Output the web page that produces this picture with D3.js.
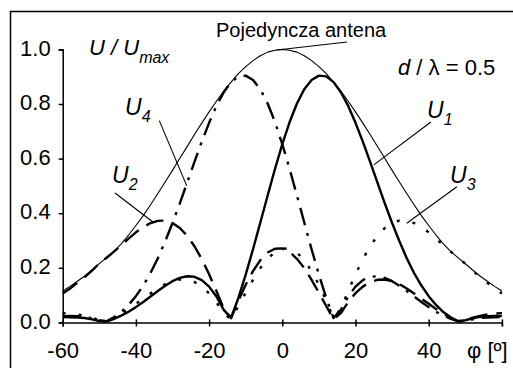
<!DOCTYPE html>
<html>
<head>
<meta charset="utf-8">
<script src="https://cdn.jsdelivr.net/npm/d3@7"></script>
<style>
  body { margin: 0; background: #fff; }
  text { font-family: Arial, "Liberation Sans", sans-serif; fill: #000; }
</style>
</head>
<body>
<svg id="chart" width="513" height="368"></svg>
<script>
// angle grid, degrees
const phi = [-60, -58, -56, -54, -52, -50, -48, -46, -44, -42, -40, -38, -36, -34, -32, -30,
  -28, -26, -24, -22, -20, -18, -16, -14, -12, -10, -8, -6, -4, -2, 0,
  2, 4, 6, 8, 10, 12, 14, 16, 18, 20, 22, 24, 26, 28, 30,
  32, 34, 36, 38, 40, 42, 44, 46, 48, 50, 52, 54, 56, 58, 60];

// single antenna (thin line)
const single = [0.115, 0.132, 0.151, 0.170, 0.192, 0.215, 0.237, 0.260, 0.288, 0.320, 0.355, 0.391, 0.431, 0.472, 0.514, 0.557,
  0.601, 0.644, 0.688, 0.730, 0.771, 0.810, 0.847, 0.880, 0.911, 0.937, 0.959, 0.977, 0.990, 0.997, 1.000,
  0.997, 0.990, 0.977, 0.959, 0.937, 0.911, 0.880, 0.847, 0.810, 0.771, 0.730, 0.688, 0.644, 0.601, 0.557,
  0.514, 0.472, 0.431, 0.391, 0.355, 0.320, 0.288, 0.260, 0.237, 0.215, 0.192, 0.170, 0.151, 0.132, 0.115];

const u1 = [0.020, 0.019, 0.018, 0.016, 0.011, 0.005, 0.003, 0.013, 0.025, 0.039, 0.056, 0.075, 0.095, 0.115, 0.134, 0.151,
  0.163, 0.169, 0.167, 0.155, 0.131, 0.095, 0.046, 0.016, 0.090, 0.175, 0.268, 0.366, 0.465, 0.562, 0.653,
  0.734, 0.802, 0.854, 0.888, 0.904, 0.901, 0.880, 0.843, 0.793, 0.731, 0.662, 0.588, 0.512, 0.436, 0.364,
  0.297, 0.235, 0.181, 0.135, 0.096, 0.064, 0.038, 0.019, 0.004, 0.008, 0.015, 0.020, 0.023, 0.024, 0.023];

const u2 = [0.106, 0.124, 0.145, 0.166, 0.190, 0.215, 0.237, 0.259, 0.283, 0.307, 0.330, 0.349, 0.364, 0.372, 0.373, 0.364,
  0.346, 0.317, 0.279, 0.232, 0.176, 0.115, 0.050, 0.016, 0.079, 0.138, 0.188, 0.228, 0.256, 0.270, 0.271,
  0.258, 0.233, 0.199, 0.156, 0.109, 0.060, 0.011, 0.034, 0.074, 0.107, 0.131, 0.148, 0.156, 0.157, 0.151,
  0.140, 0.124, 0.106, 0.087, 0.068, 0.049, 0.032, 0.017, 0.004, 0.008, 0.017, 0.024, 0.029, 0.032, 0.034];

const u3 = [0.034, 0.032, 0.029, 0.024, 0.017, 0.008, 0.004, 0.017, 0.032, 0.049, 0.068, 0.087, 0.106, 0.124, 0.140, 0.151,
  0.157, 0.156, 0.148, 0.131, 0.107, 0.074, 0.034, 0.011, 0.060, 0.109, 0.156, 0.199, 0.233, 0.258, 0.271,
  0.270, 0.256, 0.228, 0.188, 0.138, 0.079, 0.016, 0.050, 0.115, 0.176, 0.232, 0.279, 0.317, 0.346, 0.364,
  0.373, 0.372, 0.364, 0.349, 0.330, 0.307, 0.283, 0.259, 0.237, 0.215, 0.190, 0.166, 0.145, 0.124, 0.106];

const u4 = [0.023, 0.024, 0.023, 0.020, 0.015, 0.008, 0.004, 0.019, 0.038, 0.064, 0.096, 0.135, 0.181, 0.235, 0.297, 0.364,
  0.436, 0.512, 0.588, 0.662, 0.731, 0.793, 0.843, 0.880, 0.901, 0.904, 0.888, 0.854, 0.802, 0.734, 0.653,
  0.562, 0.465, 0.366, 0.268, 0.175, 0.090, 0.016, 0.046, 0.095, 0.131, 0.155, 0.167, 0.169, 0.163, 0.151,
  0.134, 0.115, 0.095, 0.075, 0.056, 0.039, 0.025, 0.013, 0.005, 0.003, 0.011, 0.016, 0.018, 0.019, 0.020];

const xTicks = [-60, -40, -20, 0, 20, 40, 60];
const xTickLabels = ['-60', '-40', '-20', '0', '20', '40', ''];
const yTicks = [0, 0.2, 0.4, 0.6, 0.8, 1.0];

const svg = d3.select('#chart');

const x = d3.scaleLinear().domain([-60, 60]).range([62.7, 501.9]);
const y = d3.scaleLinear().domain([0, 1]).range([322.4, 49.4]);

// outer frame (runs off the right and bottom edges)
svg.append('rect')
    .attr('x', 10.5).attr('y', 11.5)
    .attr('width', 520).attr('height', 380)
    .attr('fill', 'none').attr('stroke', '#000').attr('stroke-width', 1.5);

// axes
const yAxis = svg.append('g')
    .attr('transform', `translate(${x(-60)},0)`)
    .call(d3.axisLeft(y).tickValues(yTicks).tickFormat(d3.format('.1f'))
        .tickSizeOuter(0).tickSize(4).tickPadding(8));
yAxis.selectAll('.tick line').attr('x1', 1).attr('x2', -4);
yAxis.selectAll('.tick text').attr('dy', '0.26em');

const xAxis = svg.append('g')
    .attr('transform', `translate(0,${y(0)})`)
    .call(d3.axisBottom(x).tickValues(xTicks).tickFormat((d, i) => xTickLabels[i])
        .tickSizeOuter(0).tickSize(4).tickPadding(16));
xAxis.selectAll('.tick line').attr('y1', -3).attr('y2', 4);

svg.selectAll('.domain, .tick line').attr('stroke', '#000').attr('stroke-width', 1.5);
svg.selectAll('.tick text').attr('font-size', 22).attr('fill', '#000')
    .style('font-family', 'Arial, "Liberation Sans", sans-serif');

// curves
const line = d3.line().x((d, i) => x(phi[i])).y(d => y(d));

const series = [
  { values: single, width: 1.1, dash: null },
  { values: u1, width: 2.4, dash: null },
  { values: u2, width: 2.4, dash: '18,9' },
  { values: u3, width: 2.4, dash: '3,13' },
  { values: u4, width: 2.4, dash: '18,8,3,8' }
];

svg.append('g').selectAll('path')
    .data(series)
    .enter().append('path')
    .attr('d', d => line(d.values))
    .attr('fill', 'none')
    .attr('stroke', '#000')
    .attr('stroke-width', d => d.width)
    .attr('stroke-dasharray', d => d.dash)
    .attr('stroke-linejoin', 'round');

// leader lines: [phi, value] -> [phi, value]
const leaders = [
  [[17.7, 1.027], [-1.5, 0.998]],
  [[-33.6, 0.739], [-26.1, 0.50]],
  [[-45.7, 0.474], [-35.1, 0.365]],
  [[40.6, 0.734], [25.0, 0.577]],
  [[47.7, 0.497], [34.0, 0.363]]
];
svg.append('g').selectAll('line')
    .data(leaders)
    .enter().append('line')
    .attr('x1', d => x(d[0][0])).attr('y1', d => y(d[0][1]))
    .attr('x2', d => x(d[1][0])).attr('y2', d => y(d[1][1]))
    .attr('stroke', '#000').attr('stroke-width', 1.1);

// texts
svg.append('text')
    .attr('x', 216).attr('y', 37)
    .attr('font-size', 20)
    .text('Pojedyncza antena');

const ylab = svg.append('text').attr('x', 89).attr('y', 55).attr('font-size', 22).attr('font-style', 'italic');
ylab.append('tspan').text('U / U');
ylab.append('tspan').attr('font-size', 16).attr('dy', 8).text('max');

const dl = svg.append('text').attr('x', 398).attr('y', 75).attr('font-size', 22);
dl.append('tspan').attr('font-style', 'italic').text('d');
dl.append('tspan').text(' / λ = 0.5');

svg.append('text').attr('x', 467).attr('y', 358).attr('font-size', 22).text('φ [º]');

const uLabels = [
  { name: 'U', sub: '4', x: 125, y: 115 },
  { name: 'U', sub: '2', x: 112, y: 183 },
  { name: 'U', sub: '1', x: 427, y: 118 },
  { name: 'U', sub: '3', x: 450, y: 183 }
];
uLabels.forEach(l => {
  const t = svg.append('text').attr('x', l.x).attr('y', l.y)
      .attr('font-size', 23).attr('font-style', 'italic');
  t.append('tspan').text(l.name);
  t.append('tspan').attr('font-size', 16).attr('dy', 7).text(l.sub);
});
</script>
</body>
</html>
